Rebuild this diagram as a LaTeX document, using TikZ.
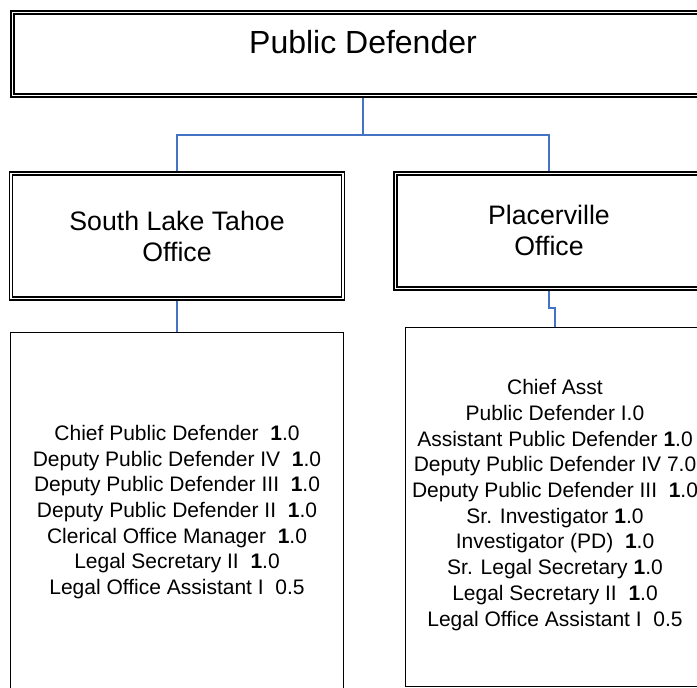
\documentclass[tikz,border=0pt]{standalone}
\usepackage{fontspec}
\setmainfont{Liberation Sans}
\definecolor{linkblue}{RGB}{68,114,196}
\newcommand{\one}{\textbf{1}.0}
\begin{document}
\begin{tikzpicture}[x=1pt,y=-1pt,
  dbox/.style={draw, line width=1.7pt, double=white, double distance=1.5pt,
    outer sep=2.45pt, inner sep=0pt, fill=white},
  listbox/.style={draw, line width=1.8pt, inner sep=0pt, fill=white},
  conn/.style={draw=linkblue, line width=1.5pt},
  title/.style={font=\fontsize{32}{36}\selectfont, inner sep=0pt},
  office/.style={font=\fontsize{26.7}{31}\selectfont, align=center, inner sep=0pt},
  staff/.style={font=\fontsize{21}{25.7}\selectfont, align=center, inner sep=0pt}]
\clip (0,0) rectangle (697,688);
\fill[white] (0,0) rectangle (697,688);
% boxes
\node[dbox, minimum width=701pt, minimum height=83pt] (pd) at (363,54) {};
\node[title, anchor=base] (pdt) at (363,53) {Public Defender};
\node[dbox, minimum width=332pt, minimum height=125pt] (slt) at (177,236) {};
\node[office] (sltt) at (177,236) {South Lake Tahoe\\Office};
\node[dbox, minimum width=307pt, minimum height=115pt] (plc) at (549,231) {};
\node[office] (plct) at (549,230) {Placerville\\Office};
\node[listbox, minimum width=333pt, minimum height=359pt] (lb) at (177,512) {};
\node[staff] (lbt) at (177,512) {Chief Public Defender \ \one\\
Deputy Public Defender IV \ \one\\
Deputy Public Defender III \ \one\\
Deputy Public Defender II \ \one\\
Clerical Office Manager \ \one\\
Legal Secretary II \ \one\\
Legal Office Assistant I \ 0.5};
\node[listbox, minimum width=299pt, minimum height=359pt] (rb) at (555,507) {};
\node[staff] (rbt) at (555,505) {Chief Asst\\
Public Defender I.0\\
Assistant Public Defender \one\\
Deputy Public Defender IV 7.0\\
Deputy Public Defender III \ \one\\
Sr. Investigator \one\\
Investigator (PD) \ \one\\
Sr. Legal Secretary \one\\
Legal Secretary II \ \one\\
Legal Office Assistant I \ 0.5};
% connectors
\coordinate (bus) at (363,135);
\draw[conn] (pd.south) -- (bus);
\draw[conn] (slt.north) |- (bus);
\draw[conn] (plc.north) |- (bus);
\draw[conn] (slt.south) -- (lb.north);
\draw[conn] (plc.south) -- ++(0,17) -| (rb.north);
\end{tikzpicture}
\end{document}
